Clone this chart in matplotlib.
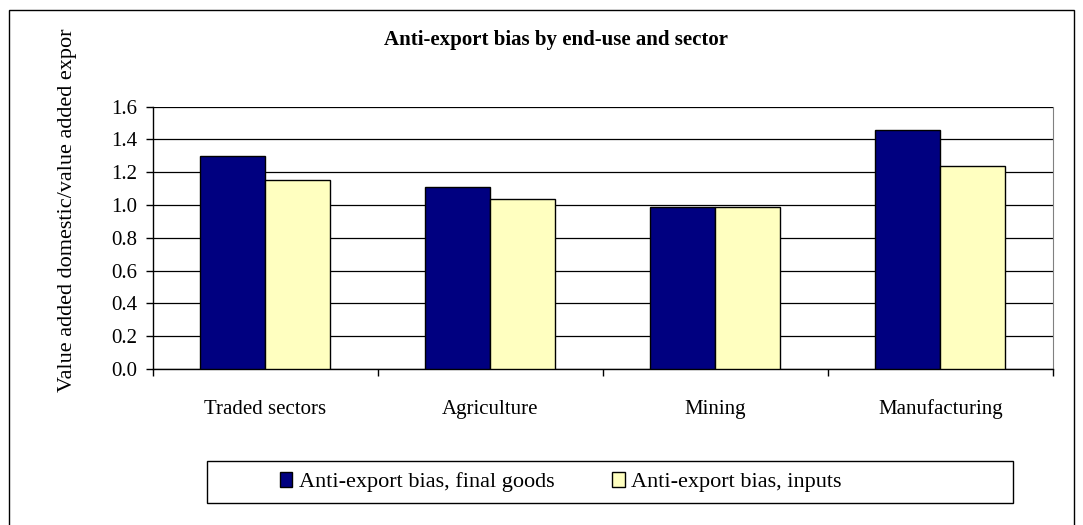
import matplotlib
matplotlib.use("Agg")
import matplotlib.pyplot as plt
from matplotlib.patches import Rectangle
import numpy as np

categories = ["Traded sectors", "Agriculture", "Mining", "Manufacturing"]
final_goods = [1.30, 1.11, 0.99, 1.46]
inputs = [1.15, 1.04, 0.99, 1.24]
series_names = ["Anti-export bias, final goods", "Anti-export bias, inputs"]
y_ticks = [0.0, 0.2, 0.4, 0.6, 0.8, 1.0, 1.2, 1.4, 1.6]

plt.rcParams["font.family"] = ["Liberation Serif", "DejaVu Serif"]
FS = 15

W, H = 1083, 525
fig = plt.figure(figsize=(W / 100, H / 100), dpi=100)

# outer chart border
fig.add_artist(Rectangle((9 / W, -0.01), (1074 - 9) / W, 1 - 10 / H + 0.01,
                         transform=fig.transFigure, fill=False,
                         edgecolor="black", linewidth=1.0))

ax = fig.add_axes([152.7 / W, 1 - 369 / H, 900 / W, (369 - 106.7) / H])

x = np.arange(len(categories))
w = 0.29
ax.bar(x - w / 2, final_goods, w, color="#000080", edgecolor="black",
       linewidth=1.0, label=series_names[0], zorder=3)
ax.bar(x + w / 2, inputs, w, color="#FFFFC0", edgecolor="black",
       linewidth=1.0, label=series_names[1], zorder=3)

ax.set_xlim(-0.5, len(categories) - 0.5)
ax.set_ylim(0, 1.6)
ax.set_yticks(y_ticks)
ax.set_yticklabels([f"{v:.1f}" for v in y_ticks], fontsize=FS)
ax.yaxis.grid(True, color="black", linewidth=0.9, zorder=0)

# tick marks between categories, labels at centres
ax.set_xticks(np.arange(len(categories) + 1) - 0.5)
ax.set_xticklabels([])
ax.set_xticks(x, minor=True)
ax.set_xticklabels(categories, minor=True, fontsize=FS)
ax.tick_params(axis="x", which="major", direction="out", length=5, width=1)
ax.tick_params(axis="x", which="minor", length=0, pad=22)
ax.tick_params(axis="y", direction="out", length=5, width=1, pad=6)

ax.spines["top"].set_visible(False)
ax.spines["right"].set_color("#808080")
for s in ("left", "bottom"):
    ax.spines[s].set_linewidth(1.0)

fig.text(556 / W, 1 - 40 / H, "Anti-export bias by end-use and sector",
         ha="center", va="center", fontsize=15, fontweight="bold")
fig.text(68 / W, 1 - 28 / H, "Value added domestic/value added expor",
         rotation=90, ha="center", va="top", fontsize=16)

# legend box
fig.add_artist(Rectangle((207 / W, 1 - 503 / H), (1013 - 207) / W, 42 / H,
                         transform=fig.transFigure, fill=False,
                         edgecolor="black", linewidth=1.0))
fig.legend(loc="center", bbox_to_anchor=(561 / W, 1 - 482 / H), ncol=2,
           frameon=False, fontsize=16, handlelength=0.55, handleheight=0.65,
           handletextpad=0.3, columnspacing=2.6)

fig.savefig("out.png", dpi=100)
